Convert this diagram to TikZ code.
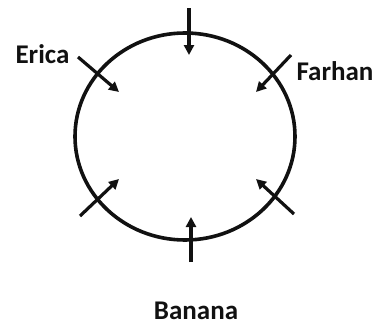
\documentclass[tikz,border=0pt]{standalone}
\usepackage{fontspec}
\setmainfont{Carlito}
\usepackage{xcolor}
\definecolor{cInk}{HTML}{111111}
\usetikzlibrary{positioning,arrows.meta}
\tikzset{
  node-name/.style={font=\fontsize{27}{31}\selectfont\bfseries,text=cInk,inner sep=0pt},
  ring/.style={draw=cInk,line width=3.6pt},
  arrow-in/.style={-{Triangle[length=10pt,width=10pt]},line width=3.2pt,draw=cInk},
}
\begin{document}
\begin{tikzpicture}[x=1pt,y=1pt]
  \useasboundingbox (0,0) rectangle (378,325);
  \draw[ring] (185,188.5) ellipse [x radius=110,y radius=103.5];
  % arrows pointing into the ring
  \coordinate (top-s) at (189,317);  \coordinate (top-e) at (189,270);
  \coordinate (bot-s) at (191,63);   \coordinate (bot-e) at (191,108);
  \coordinate (ul-s) at (78,268);    \coordinate (ul-e) at (119,233);
  \coordinate (ur-s) at (291,270);   \coordinate (ur-e) at (256,233);
  \coordinate (ll-s) at (80,109);    \coordinate (ll-e) at (119,146);
  \coordinate (lr-s) at (294,111);   \coordinate (lr-e) at (256,146);
  \foreach \a in {top,bot,ul,ur,ll,lr}
    \draw[arrow-in] (\a-s) -- (\a-e);
  % names
  \node[node-name] (erica)  at (42.5,271) {Erica};
  \node[node-name] (farhan) at (335,254)  {Farhan};
  \node[node-name] (banana) at (196,14)   {Banana};
\end{tikzpicture}
\end{document}
